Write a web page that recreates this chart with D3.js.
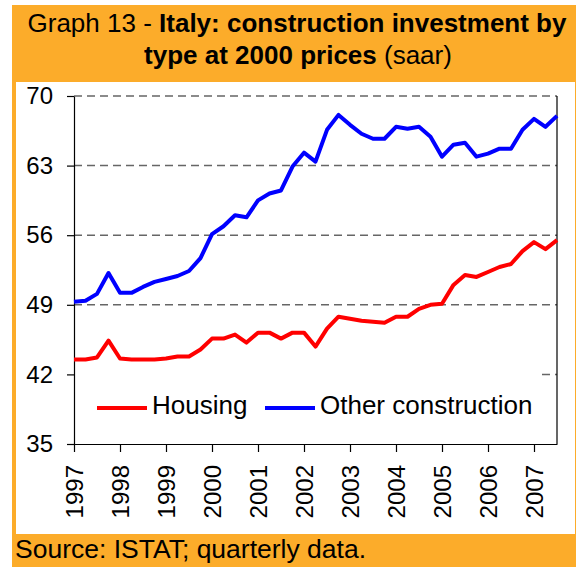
<!DOCTYPE html>
<html>
<head>
<meta charset="utf-8">
<script src="https://cdn.jsdelivr.net/npm/d3@7"></script>
<style>
  body { margin: 0; background: #fff; }
  text { font-family: "Liberation Sans", Arial, sans-serif; }
</style>
</head>
<body>
<div id="chart"></div>
<script>
// quarterly, 1997Q1 .. 2007Q3
var years = [1997, 1998, 1999, 2000, 2001, 2002, 2003, 2004, 2005, 2006, 2007];
var yTicks = [35, 42, 49, 56, 63, 70];

var housing = [
  43.5, 43.5, 43.7, 45.4, 43.6, 43.5, 43.5, 43.5,
  43.6, 43.8, 43.8, 44.5, 45.6, 45.6, 46.0, 45.2,
  46.2, 46.2, 45.6, 46.2, 46.2, 44.8, 46.6, 47.8,
  47.6, 47.4, 47.3, 47.2, 47.8, 47.8, 48.6, 49.0,
  49.1, 51.0, 52.0, 51.8, 52.3, 52.8, 53.1, 54.4,
  55.3, 54.6, 55.5
];
var other = [
  49.3, 49.4, 50.1, 52.2, 50.2, 50.2, 50.8, 51.3,
  51.6, 51.9, 52.4, 53.7, 56.1, 56.9, 58.0, 57.8,
  59.5, 60.2, 60.5, 62.9, 64.3, 63.4, 66.6, 68.1,
  67.1, 66.2, 65.7, 65.7, 66.9, 66.7, 66.9, 65.9,
  63.9, 65.1, 65.3, 63.9, 64.2, 64.7, 64.7, 66.6,
  67.7, 66.9, 68.0
];

var W = 576, H = 568;
var orange = '#FCAC2A';

var svg = d3.select('#chart')
  .append('svg')
    .attr('width', W)
    .attr('height', H);

// frame
svg.append('rect')
  .attr('x', 12).attr('y', 5)
  .attr('width', 564).attr('height', 562)
  .style('fill', orange);
svg.append('rect')
  .attr('x', 16).attr('y', 82)
  .attr('width', 559).attr('height', 452)
  .style('fill', '#fff');

// title
var t1 = svg.append('text')
  .attr('x', 297).attr('y', 32)
  .attr('text-anchor', 'middle')
  .style('font-size', '26px');
t1.append('tspan').text('Graph 13 - ');
t1.append('tspan').style('font-weight', 'bold').text('Italy: construction investment by');

var t2 = svg.append('text')
  .attr('x', 298).attr('y', 64)
  .attr('text-anchor', 'middle')
  .style('font-size', '26px');
t2.append('tspan').style('font-weight', 'bold').text('type at 2000 prices');
t2.append('tspan').text(' (saar)');

// footer
svg.append('text')
  .attr('x', 15).attr('y', 558)
  .style('font-size', '26.5px')
  .text('Source: ISTAT; quarterly data.');

// plot
var pLeft = 74, pRight = 557, pTop = 96, pBottom = 444;

var x = d3.scaleLinear()
  .domain([0, housing.length - 1])
  .range([pLeft, pRight]);

var y = d3.scaleLinear()
  .domain([35, 70])
  .range([pBottom, pTop]);

// gridlines
svg.append('g')
  .selectAll('line')
  .data(yTicks.slice(1))
  .enter().append('line')
    .attr('x1', pLeft).attr('x2', pRight)
    .attr('y1', function(d) { return y(d); })
    .attr('y2', function(d) { return y(d); })
    .style('stroke', '#666')
    .style('stroke-width', 1.5)
    .style('stroke-dasharray', '8,5');

// legend background hides part of the 42 gridline
svg.append('rect')
  .attr('x', pLeft + 1).attr('y', 368)
  .attr('width', 463).attr('height', 72)
  .style('fill', '#fff');

// right border
svg.append('line')
  .attr('x1', pRight).attr('x2', pRight)
  .attr('y1', pTop).attr('y2', pBottom)
  .style('stroke', '#000')
  .style('stroke-width', 1.2);

// y axis
var yAxis = d3.axisLeft(y)
  .tickValues(yTicks)
  .tickSize(7)
  .tickSizeOuter(0)
  .tickPadding(14);

var gy = svg.append('g')
  .attr('transform', 'translate(' + pLeft + ',0)')
  .call(yAxis);
gy.select('.domain').style('stroke-width', 1.2);
gy.selectAll('.tick line').style('stroke-width', 1.2);
gy.selectAll('text')
  .style('font-size', '24px')
  .style('font-family', '"Liberation Sans", Arial, sans-serif')
  .attr('fill', '#000');

// x axis: a tick at the first quarter of each year
var xAxis = d3.axisBottom(x)
  .tickValues(years.map(function(d, i) { return i * 4; }))
  .tickSize(8)
  .tickSizeOuter(0)
  .tickFormat('');

var gx = svg.append('g')
  .attr('transform', 'translate(0,' + pBottom + ')')
  .call(xAxis);
gx.select('.domain').style('stroke-width', 1.2);
gx.selectAll('.tick line').style('stroke-width', 1.2);

svg.append('g')
  .selectAll('text')
  .data(years)
  .enter().append('text')
    .attr('transform', function(d, i) {
      return 'translate(' + x(i * 4) + ',465) rotate(-90)';
    })
    .attr('text-anchor', 'end')
    .attr('dominant-baseline', 'central')
    .style('font-size', '24px')
    .text(function(d) { return d; });

// series
var line = d3.line()
  .x(function(d, i) { return x(i); })
  .y(function(d) { return y(d); });

svg.append('path')
  .datum(housing)
  .attr('d', line)
  .style('fill', 'none')
  .style('stroke', '#FF0000')
  .style('stroke-width', 4)
  .style('stroke-linejoin', 'round');

svg.append('path')
  .datum(other)
  .attr('d', line)
  .style('fill', 'none')
  .style('stroke', '#0000FF')
  .style('stroke-width', 4)
  .style('stroke-linejoin', 'round');

// legend
var legend = [
  { name: 'Housing', color: '#FF0000', x: 97 },
  { name: 'Other construction', color: '#0000FF', x: 265 }
];
var lg = svg.append('g')
  .selectAll('g')
  .data(legend)
  .enter().append('g');
lg.append('line')
  .attr('x1', function(d) { return d.x; })
  .attr('x2', function(d) { return d.x + 50; })
  .attr('y1', 408).attr('y2', 408)
  .style('stroke', function(d) { return d.color; })
  .style('stroke-width', 4);
lg.append('text')
  .attr('x', function(d) { return d.x + 55; })
  .attr('y', 414)
  .style('font-size', '26px')
  .text(function(d) { return d.name; });
</script>
</body>
</html>
